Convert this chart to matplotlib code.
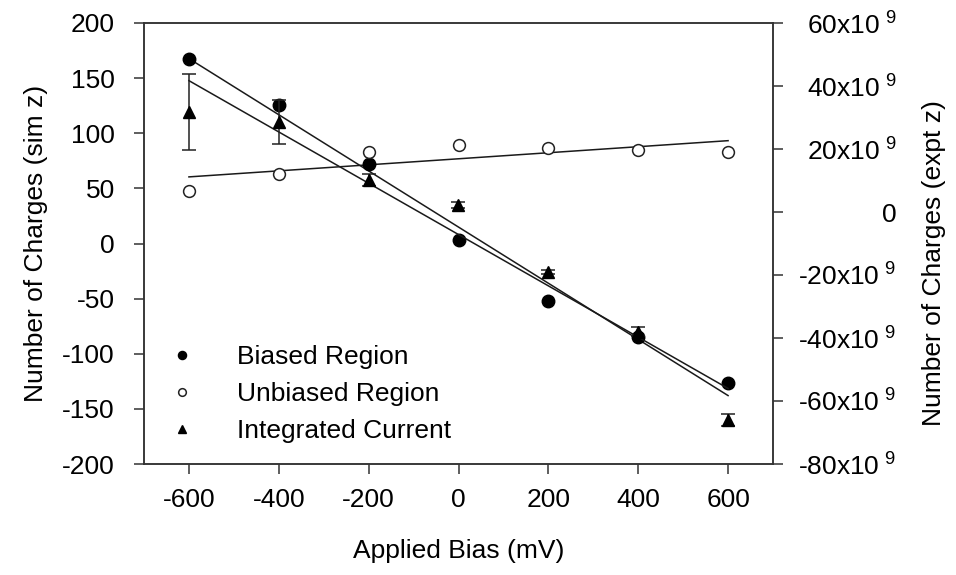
import numpy as np
import matplotlib
matplotlib.use("Agg")
import matplotlib.pyplot as plt
from matplotlib.ticker import FixedLocator, FuncFormatter

plt.rcParams['font.family'] = ['Liberation Sans', 'DejaVu Sans']
plt.rcParams['mathtext.fontset'] = 'custom'
plt.rcParams['mathtext.rm'] = 'Liberation Sans'
plt.rcParams['mathtext.default'] = 'regular'
plt.rcParams['axes.unicode_minus'] = False

# Applied bias (mV)
bias = [-600, -400, -200, 0, 200, 400, 600]
# Simulated charge counts (left axis)
biased_region = [167, 125.6, 72.3, 3, -52, -84.8, -126.8]
unbiased_region = [47.9, 63, 83, 89, 87, 85, 83]
# Experimental integrated current charges, in units of 1e9 (right axis)
integrated_current = [31.8, 28.7, 10.2, 2.2, -19, -38, -66]
integrated_err = [12, 7, 2, 1, 0.6, 1.5, 1.8]

x_ticks = [-600, -400, -200, 0, 200, 400, 600]
left_ticks = [200, 150, 100, 50, 0, -50, -100, -150, -200]
right_ticks = [60, 40, 20, 0, -20, -40, -60, -80]

W, H = 956, 575
fig = plt.figure(figsize=(W / 100, H / 100), dpi=100)
ax = fig.add_axes([144 / W, 1 - 464 / H, (773 - 144) / W, (464 - 23) / H])
ax2 = ax.twinx()

fs = 19
line_c = '#1a1a1a'
spine_c = '#333333'

xb = np.array(bias, dtype=float)
xfit = np.array([xb.min(), xb.max()])

# regression lines
for yv, a in ((biased_region, ax), (unbiased_region, ax), (integrated_current, ax2)):
    p = np.polyfit(xb, np.array(yv, dtype=float), 1)
    a.plot(xfit, np.polyval(p, xfit), color=line_c, lw=1.1, zorder=2)

h1, = ax.plot(bias, biased_region, 'o', ms=9, mfc='black', mec='black',
              ls='none', zorder=4, label='Biased Region')
h2, = ax.plot(bias, unbiased_region, 'o', ms=8.5, mfc='white', mec='#222222',
              mew=1.1, ls='none', zorder=4, label='Unbiased Region')
eb = ax2.errorbar(bias, integrated_current, yerr=integrated_err, fmt='^',
                  ms=9, mfc='black', mec='black', ecolor='#222222',
                  elinewidth=1.1, capsize=4.8, capthick=1.1, zorder=4)
h3, = ax2.plot([], [], '^', ms=9, mfc='black', mec='black', ls='none',
               label='Integrated Current')

ax.set_xlim(-700, 700)
ax.set_ylim(-200, 200)
ax2.set_ylim(-80, 60)

ax.xaxis.set_major_locator(FixedLocator(x_ticks))
ax.yaxis.set_major_locator(FixedLocator(left_ticks))
ax2.yaxis.set_major_locator(FixedLocator(right_ticks))


def right_fmt(v, pos):
    if abs(v) < 1e-9:
        return '0'
    return '%dx10$^{\\ 9}$' % int(round(v))


ax2.yaxis.set_major_formatter(FuncFormatter(right_fmt))

for a in (ax, ax2):
    for s in a.spines.values():
        s.set_color(spine_c)
        s.set_linewidth(1.1)
    a.tick_params(direction='out', length=7, width=1.1, color=spine_c,
                  labelsize=fs, labelcolor='black')

ax.tick_params(axis='x', pad=10)
ax.tick_params(axis='y', pad=14)
ax2.tick_params(axis='y', pad=82)
for lbl in ax2.get_yticklabels():
    lbl.set_ha('right')

ax.set_xlabel('Applied Bias (mV)', fontsize=fs, labelpad=20)
ax.set_ylabel('Number of Charges (sim z)', fontsize=fs, labelpad=10)
ax2.set_ylabel('Number of Charges (expt z)', fontsize=fs)
ax2.yaxis.set_label_coords(1.237, 0.455)

leg = ax.legend(handles=[h1, h2, h3], loc='upper left',
                bbox_to_anchor=(0.047, 0.27), frameon=False, fontsize=fs,
                markerscale=0.65, handlelength=0.65, handletextpad=1.75,
                labelspacing=0.5, borderpad=0, borderaxespad=0)
leg.set_zorder(10)

fig.savefig('out.png', dpi=100)
